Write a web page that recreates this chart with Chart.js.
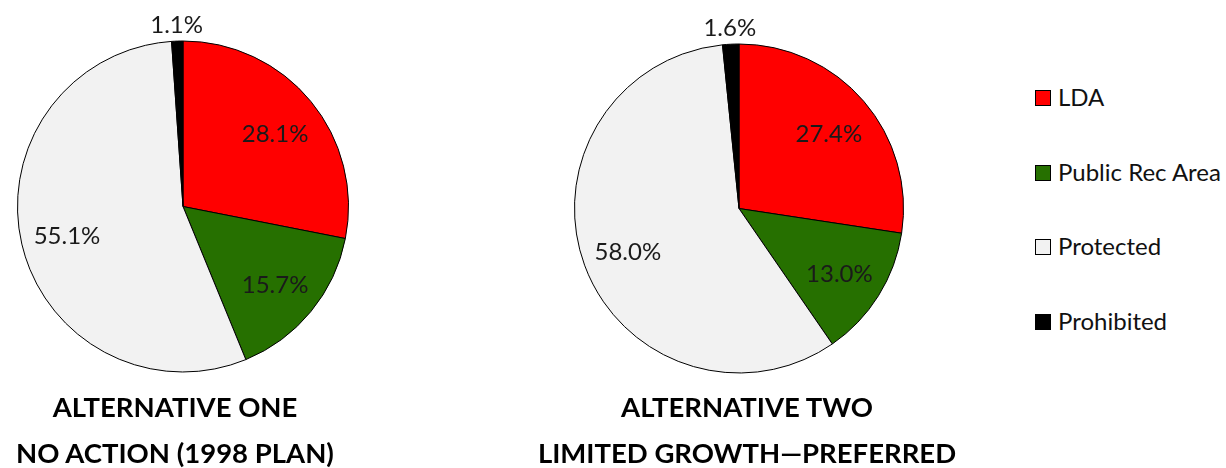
<!DOCTYPE html>
<html>
<head>
<meta charset="utf-8">
<script src="https://cdn.jsdelivr.net/npm/chart.js@4.4.1/dist/chart.umd.min.js"></script>
<style>
  html, body { margin: 0; padding: 0; background: #fff; }
  body { width: 1226px; height: 468px; position: relative; overflow: hidden; font-family: Lato, "Open Sans", sans-serif; }
  .wrap { position: absolute; }
  .title { position: absolute; font-weight: bold; font-size: 27.5px; color: #000; text-align: center; white-space: nowrap; line-height: 30px; width: 500px; }
  .legend { position: absolute; left: 1035px; top: 0; }
  .li { position: absolute; left: 0; white-space: nowrap; font-size: 24px; color: #111; line-height: 24px; }
  .li .box { position: absolute; left: 0; top: 5px; width: 14px; height: 14px; border: 1px solid #000; }
  .li .txt { position: absolute; left: 23px; top: 0; }
</style>
</head>
<body>
<div class="wrap" id="w1" style="left:0;top:0;width:400px;height:468px;"><canvas id="c1"></canvas></div>
<div class="wrap" id="w2" style="left:500px;top:0;width:500px;height:468px;"><canvas id="c2"></canvas></div>
<div class="title" id="t1a"></div>
<div class="title" id="t1b"></div>
<div class="title" id="t2a"></div>
<div class="title" id="t2b"></div>
<div class="legend" id="legend"></div>
<script>
const categories = ["LDA", "Public Rec Area", "Protected", "Prohibited"];
const altOneValues = [28.1, 15.7, 55.1, 1.1];
const altTwoValues = [27.4, 13.0, 58.0, 1.6];
const sliceColors = ["#FF0000", "#267000", "#F2F2F2", "#000000"];
const altOneTitle = ["ALTERNATIVE ONE", "NO ACTION (1998 PLAN)"];
const altTwoTitle = ["ALTERNATIVE TWO", "LIMITED GROWTH\u2014PREFERRED"];

const labelPlugin = {
  id: 'sliceLabels',
  afterDatasetsDraw(chart) {
    const ctx = chart.ctx;
    const meta = chart.getDatasetMeta(0);
    const vals = chart.data.datasets[0].data;
    ctx.save();
    ctx.font = '24px Lato, "Open Sans", sans-serif';
    ctx.fillStyle = '#1a1a1a';
    ctx.textAlign = 'center';
    ctx.textBaseline = 'middle';
    meta.data.forEach((arc, i) => {
      const p = arc.getProps(['x', 'y', 'startAngle', 'endAngle', 'outerRadius'], true);
      const mid = (p.startAngle + p.endAngle) / 2;
      const d = vals[i] < 5 ? p.outerRadius + 19 : p.outerRadius * 0.72;
      ctx.fillText(vals[i].toFixed(1) + '%', p.x + Math.cos(mid) * d, p.y + Math.sin(mid) * d + 3);
    });
    ctx.restore();
  }
};

function makePie(id, values, pad) {
  return new Chart(document.getElementById(id), {
    type: 'pie',
    data: {
      labels: categories,
      datasets: [{ data: values, backgroundColor: sliceColors, borderColor: '#000', borderWidth: 1 }]
    },
    options: {
      responsive: true,
      maintainAspectRatio: false,
      animation: false,
      layout: { padding: pad },
      plugins: { legend: { display: false }, tooltip: { enabled: false } }
    },
    plugins: [labelPlugin]
  });
}

function placeTitle(id, text, cx, cy) {
  const el = document.getElementById(id);
  el.textContent = text;
  el.style.left = (cx - 250) + 'px';
  el.style.top = (cy - 15) + 'px';
}

function buildLegend() {
  const lg = document.getElementById('legend');
  const ys = [97, 172, 246, 321];
  categories.forEach((c, i) => {
    const li = document.createElement('div');
    li.className = 'li';
    li.style.top = (ys[i] - 12) + 'px';
    li.innerHTML = '<span class="box" style="background:' + sliceColors[i] + '"></span><span class="txt"></span>';
    li.querySelector('.txt').textContent = c;
    lg.appendChild(li);
  });
}

function init() {
  makePie('c1', altOneValues, { left: 17, top: 40, right: 51, bottom: 95 });
  makePie('c2', altTwoValues, { left: 74, top: 43, right: 96, bottom: 94 });
  placeTitle('t1a', altOneTitle[0], 175, 407);
  placeTitle('t1b', altOneTitle[1], 175, 453);
  placeTitle('t2a', altTwoTitle[0], 747, 407);
  placeTitle('t2b', altTwoTitle[1], 747, 453);
  buildLegend();
}

if (document.fonts && document.fonts.load) {
  Promise.all([document.fonts.load('24px Lato'), document.fonts.load('bold 27px Lato')]).then(init, init);
} else { init(); }
</script>
</body>
</html>
